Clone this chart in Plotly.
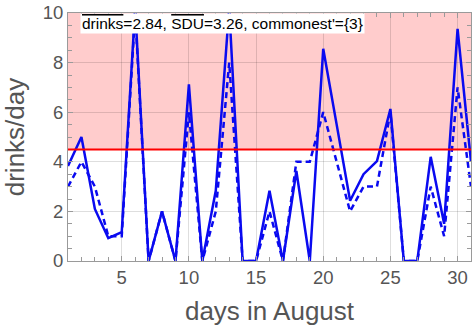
import plotly.graph_objects as go

days = list(range(1, 32))
sdu = [3.83, 5.0, 2.1, 0.92, 1.16, 10.2, 0, 2.0, 0, 7.12, 0, 2.83, 10.2, 0, 0,
       2.83, 0, 3.63, 0, 8.56, 5.5, 2.43, 3.5, 4.03, 6.13, 0, 0, 4.2, 1.5, 9.36, 4.0]
drinks = [3, 4, 3, 1, 1, 10, 0, 2, 0, 6, 0, 2, 8, 0, 0,
          2, 0, 4, 4, 6, 4, 2, 3, 3, 6, 0, 0, 3, 1, 7, 3]
threshold = 4.5
x_range = [1, 31]
y_range = [0, 10]
x_ticks = [5, 10, 15, 20, 25, 30]
y_ticks = [0, 2, 4, 6, 8, 10]
label = ('<span style="text-decoration:overline">drinks</span>=2.84, '
         '<span style="text-decoration:overline">SDU</span>=3.26, commonest\'={3}')

BLUE = "#0a0af0"
fig = go.Figure()
fig.add_trace(go.Scatter(x=days, y=drinks, mode="lines",
                         line=dict(color=BLUE, width=2.5, dash="6px,4px"),
                         showlegend=False))
fig.add_trace(go.Scatter(x=days, y=sdu, mode="lines",
                         line=dict(color=BLUE, width=2.5),
                         showlegend=False))

fig.add_shape(type="rect", xref="x", yref="y", x0=x_range[0], x1=x_range[1],
              y0=threshold, y1=y_range[1], fillcolor="#ffcccc",
              line=dict(width=0), layer="below")
fig.add_shape(type="line", xref="x", yref="y", x0=x_range[0], x1=x_range[1],
              y0=threshold, y1=threshold, line=dict(color="#ff0000", width=2),
              layer="above")

fig.add_annotation(text=label, xref="paper", yref="paper", x=0.03, y=1.0,
                   xanchor="left", yanchor="top", showarrow=False,
                   bgcolor="white", borderpad=1,
                   font=dict(family="Liberation Sans, Arial", size=15.5, color="black"))

axis_common = dict(showline=True, linecolor="#9a9a9a", linewidth=1,
                   mirror="allticks", ticks="inside", ticklen=5, tickcolor="#9a9a9a",
                   showgrid=True, gridcolor="rgba(0,0,0,0.13)", gridwidth=1,
                   zeroline=False,
                   tickfont=dict(family="Liberation Sans, Arial", size=18.5, color="#555555"),
                   title_font=dict(family="Liberation Sans, Arial", size=26, color="#555555"))

fig.update_xaxes(range=x_range, tickvals=x_ticks, title_text="days in August",
                 title_standoff=14,
                 minor=dict(dtick=1, tick0=0, ticks="inside", ticklen=4,
                            tickcolor="#9a9a9a", showgrid=False),
                 **axis_common)
fig.update_yaxes(range=y_range, tickvals=y_ticks, title_text="drinks/day",
                 title_standoff=10,
                 minor=dict(dtick=0.5, tick0=0, ticks="inside", ticklen=4,
                            tickcolor="#9a9a9a", showgrid=False),
                 **axis_common)

fig.update_layout(width=474, height=330, margin=dict(l=68, r=2, t=11, b=69),
                  plot_bgcolor="white", paper_bgcolor="white")
fig.write_html("out.html")
